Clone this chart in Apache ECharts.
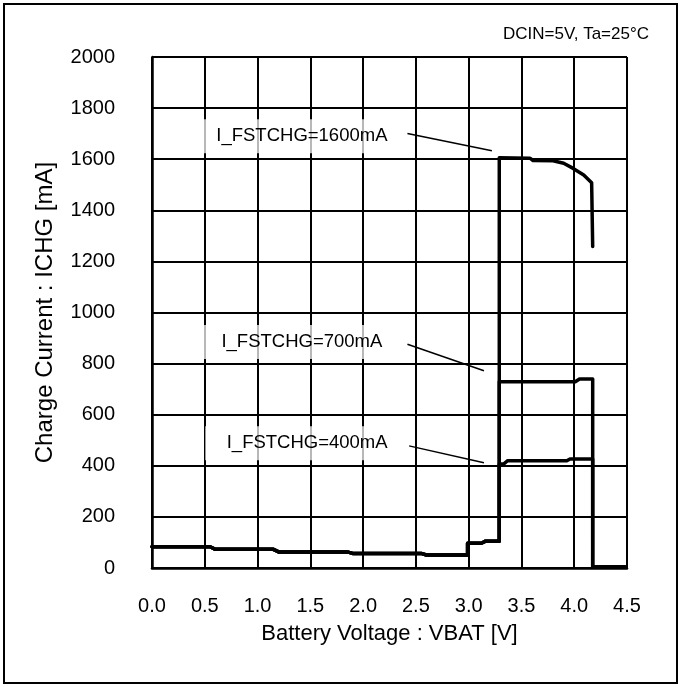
<!DOCTYPE html>
<html>
<head>
<meta charset="utf-8">
<script src="https://cdn.jsdelivr.net/npm/echarts@6/dist/echarts.min.js"></script>
<style>
html,body{margin:0;padding:0;background:#fff;}
#chart{width:681px;height:687px;}
</style>
</head>
<body>
<div id="chart"></div>
<script>
// ---- data ----
const xTicks = [0.0, 0.5, 1.0, 1.5, 2.0, 2.5, 3.0, 3.5, 4.0, 4.5];
const yTicks = [0, 200, 400, 600, 800, 1000, 1200, 1400, 1600, 1800, 2000];

// shared pre-charge part (VBAT [V], ICHG [mA])
const preV = [0.0, 0.55, 0.60, 1.15, 1.20, 1.85, 1.90, 2.55, 2.60, 2.99, 2.99, 3.12, 3.16, 3.29];
const preI = [83, 83, 73, 73, 63, 63, 57, 57, 51, 51, 97, 97, 105, 105];

const v1600 = [3.29, 3.58, 3.61, 3.80, 3.90, 3.99, 4.09, 4.165, 4.175];
const i1600 = [1606, 1604, 1595, 1594, 1584, 1564, 1538, 1508, 1258];

const v700 = [3.29, 4.01, 4.05, 4.175, 4.175, 4.48];
const i700 = [729, 729, 740, 740, 5, 5];

const v400 = [3.29, 3.33, 3.37, 3.93, 3.96, 4.175, 4.175, 4.48];
const i400 = [407, 407, 420, 420, 427, 427, 5, 5];

const labels = ['I_FSTCHG=1600mA', 'I_FSTCHG=700mA', 'I_FSTCHG=400mA'];
const labelPos = [[1.42, 1690], [1.42, 885], [1.47, 488]];
const leaderFrom = [[2.42, 1701], [2.42, 876], [2.435, 478]];
const leaderTo = [[3.22, 1633], [3.145, 772], [3.145, 412]];

const FONT = '"Liberation Sans", Arial, sans-serif';

function pts(vs, is) { return vs.map((v, k) => [v, is[k]]); }
const pre = pts(preV, preI);
const curves = [pts(v1600, i1600), pts(v700, i700), pts(v400, i400)];

const chart = echarts.init(document.getElementById('chart'), null, {renderer: 'canvas'});

const series = curves.map((c, k) => ({
  type: 'line',
  data: pre.concat(c),
  showSymbol: false,
  symbol: 'none',
  lineStyle: {color: '#000', width: 3.5, join: 'round', cap: 'round'},
  animation: false,
  silent: true,
  z: 3,
  markLine: {
    silent: true,
    symbol: ['none', 'none'],
    animation: false,
    label: {show: false},
    lineStyle: {color: '#000', width: 1.5, type: 'solid'},
    data: [[{coord: leaderFrom[k]}, {coord: leaderTo[k]}]]
  },
  markPoint: {
    silent: true,
    animation: false,
    symbol: 'rect',
    symbolSize: [204, 34],
    itemStyle: {color: 'rgba(255,255,255,0.72)'},
    label: {show: true, position: 'inside', color: '#000', fontSize: 18.5, fontFamily: FONT, formatter: labels[k]},
    data: [{coord: labelPos[k]}]
  }
}));

chart.setOption({
  animation: false,
  backgroundColor: '#fff',
  title: {
    text: 'DCIN=5V, Ta=25°C',
    right: 27, top: 21,
    textStyle: {fontSize: 17, fontWeight: 'normal', color: '#000', fontFamily: FONT}
  },
  graphic: [{
    type: 'rect',
    shape: {x: 4, y: 4, width: 673, height: 679},
    style: {fill: 'none', stroke: '#000', lineWidth: 2},
    silent: true
  }],
  grid: {left: 152, right: 54, top: 57, bottom: 119, containLabel: false},
  xAxis: {
    type: 'value',
    min: xTicks[0], max: xTicks[xTicks.length - 1], interval: 0.5,
    name: 'Battery Voltage : VBAT [V]',
    nameLocation: 'middle', nameGap: 55,
    nameTextStyle: {fontSize: 22, color: '#000', fontFamily: FONT},
    axisLine: {show: true, onZero: false, lineStyle: {color: '#000', width: 2.5}},
    axisTick: {show: false},
    axisLabel: {fontSize: 20, color: '#000', fontFamily: FONT, margin: 28, formatter: v => v.toFixed(1)},
    splitLine: {show: true, lineStyle: {color: '#000', width: 2}}
  },
  yAxis: {
    type: 'value',
    min: yTicks[0], max: yTicks[yTicks.length - 1], interval: 200,
    name: 'Charge Current : ICHG [mA]',
    nameLocation: 'middle', nameGap: 95,
    nameTextStyle: {fontSize: 24, color: '#000', fontFamily: FONT},
    axisLine: {show: true, lineStyle: {color: '#000', width: 2.5}},
    axisTick: {show: false},
    axisLabel: {fontSize: 20, color: '#000', fontFamily: FONT, margin: 37, formatter: v => String(v)},
    splitLine: {show: true, lineStyle: {color: '#000', width: 2}}
  },
  series: series
});
</script>
</body>
</html>
